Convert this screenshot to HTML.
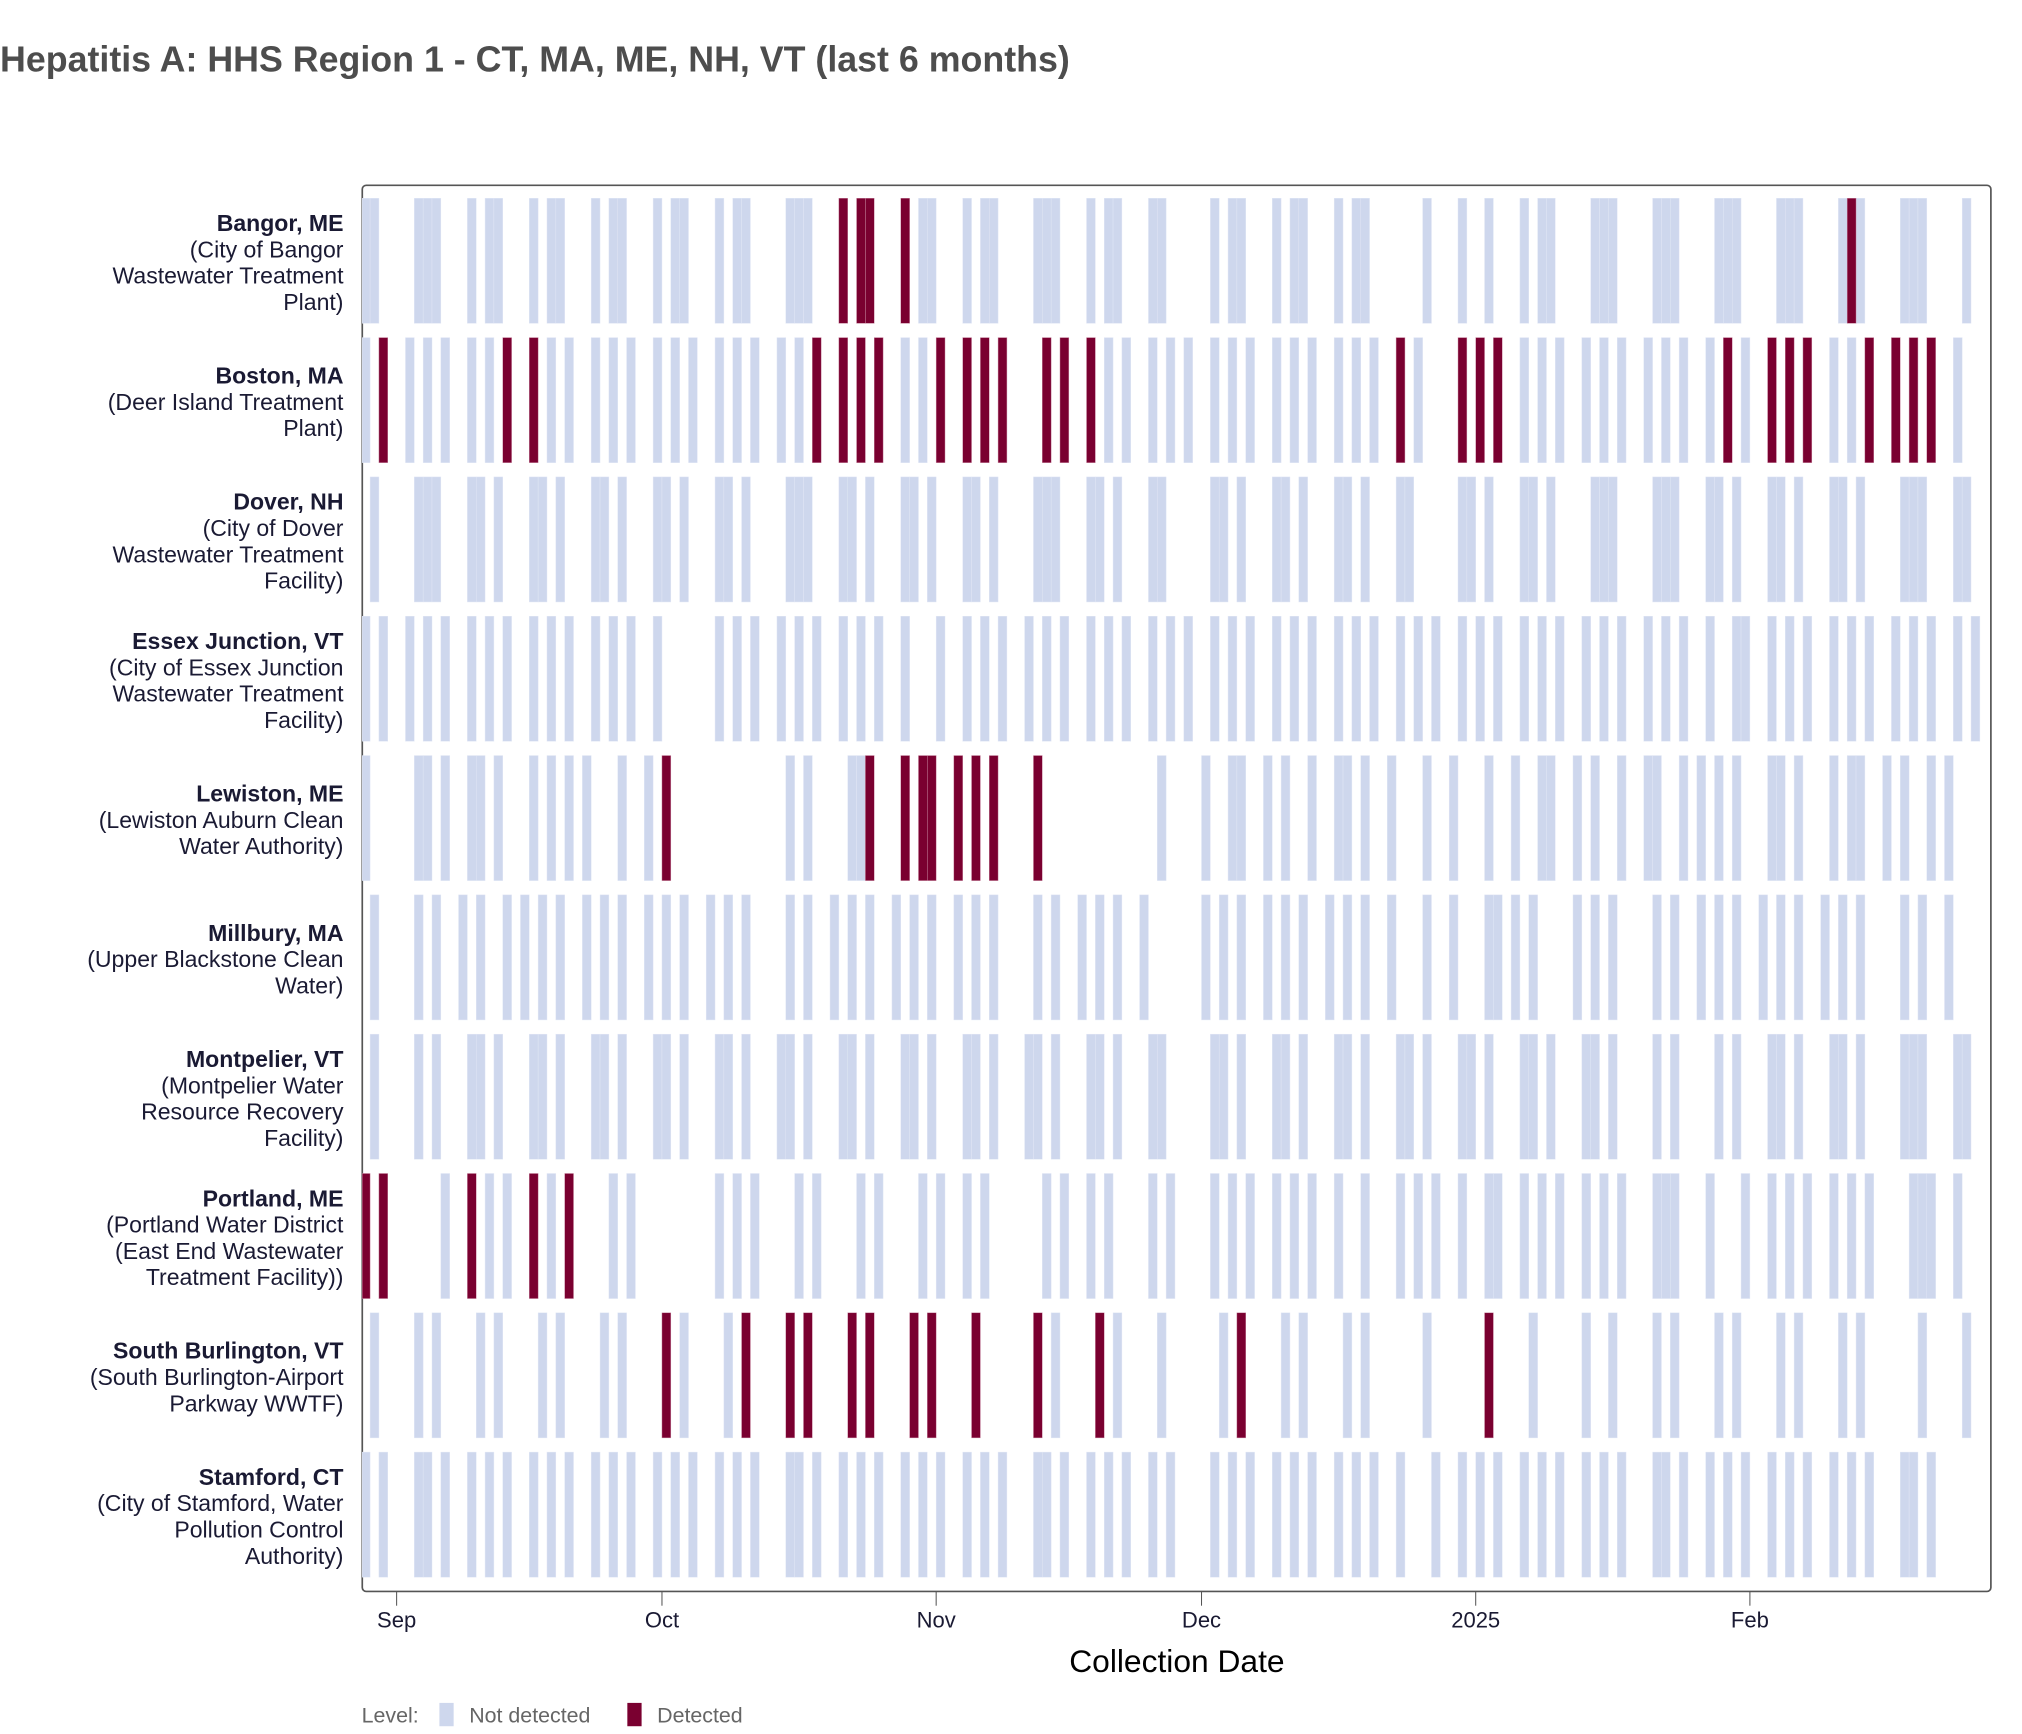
<!DOCTYPE html>
<html><head><meta charset="utf-8"><style>
html,body{margin:0;padding:0;background:#fff;}
svg{display:block;font-family:"Liberation Sans",Arial,sans-serif;}
</style></head><body>
<svg id="chart" width="2022" height="1734" viewBox="0 0 1560 1338" preserveAspectRatio="none" xmlns="http://www.w3.org/2000/svg">
<text x="0" y="55" font-size="27.6" font-weight="bold" fill="#4d4d4d">Hepatitis A: HHS Region 1 - CT, MA, ME, NH, VT (last 6 months)</text>
<rect x="279.5" y="143" width="1256.5" height="1085" rx="3" fill="#fff" stroke="#555" stroke-width="1.3"/>
<g id="bars"></g>
<g id="ylabels"></g>
<g id="xaxis"></g>
<text x="908" y="1290" font-size="24.5" text-anchor="middle" fill="#000">Collection Date</text>
<g>
<text x="279" y="1329" font-size="16.5" fill="#666">Level:</text>
<rect x="339" y="1314" width="11" height="18" fill="#ced7ed"/>
<text x="362" y="1329" font-size="16.5" fill="#666">Not detected</text>
<rect x="484" y="1314" width="11" height="18" fill="#7a0030"/>
<text x="507" y="1329" font-size="16.5" fill="#666">Detected</text>
</g>
</svg>
<script>
// Day offsets are days since 2024-08-28
const baseDate = "2024-08-28";
const sites = ["Bangor, ME","Boston, MA","Dover, NH","Essex Junction, VT","Lewiston, ME","Millbury, MA","Montpelier, VT","Portland, ME","South Burlington, VT","Stamford, CT"];
const siteDetails = [
 ["(City of Bangor","Wastewater Treatment","Plant)"],
 ["(Deer Island Treatment","Plant)"],
 ["(City of Dover","Wastewater Treatment","Facility)"],
 ["(City of Essex Junction","Wastewater Treatment","Facility)"],
 ["(Lewiston Auburn Clean","Water Authority)"],
 ["(Upper Blackstone Clean","Water)"],
 ["(Montpelier Water","Resource Recovery","Facility)"],
 ["(Portland Water District","(East End Wastewater","Treatment Facility))"],
 ["(South Burlington-Airport","Parkway WWTF)"],
 ["(City of Stamford, Water","Pollution Control","Authority)"]
];
const notDetected = [
 [0,1,6,7,8,12,14,15,19,21,22,26,28,29,33,35,36,40,42,43,48,49,50,63,64,68,70,71,76,77,78,82,84,85,89,90,96,98,99,103,105,106,110,112,113,120,124,127,131,133,134,139,140,141,146,147,148,153,154,155,160,161,162,167,169,174,175,176,181],
 [0,5,7,9,12,14,21,23,26,28,30,33,35,37,40,42,44,47,49,61,63,84,86,89,91,93,96,98,100,103,105,107,110,112,114,119,131,133,135,138,140,142,145,147,149,152,156,166,168,180],
 [1,6,7,8,12,13,15,19,20,22,26,27,29,33,34,36,40,41,43,48,49,50,54,55,57,61,62,64,68,69,71,76,77,78,82,83,85,89,90,96,97,99,103,104,106,110,111,113,117,118,124,125,127,131,132,134,139,140,141,146,147,148,152,153,155,159,160,162,166,167,169,174,175,176,180,181],
 [0,2,5,7,9,12,14,16,19,21,23,26,28,30,33,40,42,44,47,49,51,54,56,58,61,65,68,70,72,75,77,79,82,84,86,89,91,93,96,98,100,103,105,107,110,112,114,117,119,121,124,126,128,131,133,135,138,140,142,145,147,149,152,155,156,159,161,163,166,168,170,173,175,177,180,182],
 [0,6,7,9,12,13,15,19,21,23,25,29,32,48,50,55,56,90,95,98,99,102,104,107,110,111,113,116,120,123,127,130,133,134,137,139,142,145,146,149,151,153,155,159,160,162,166,168,169,172,174,177,179],
 [1,6,8,11,13,16,18,20,22,25,27,29,32,34,36,39,41,43,48,50,53,55,57,60,62,64,67,69,71,76,78,81,83,85,88,95,97,99,102,104,106,109,111,113,116,120,123,127,128,130,132,137,139,141,146,148,151,153,155,158,160,162,165,167,169,174,176,179],
 [1,6,8,12,13,15,19,20,22,26,27,29,33,34,36,40,41,43,47,48,50,54,55,57,61,62,64,68,69,71,75,76,78,82,83,85,89,90,96,97,99,103,104,106,110,111,113,117,118,120,124,125,127,131,132,134,138,139,141,146,148,153,155,159,160,162,166,167,169,174,175,176,180,181],
 [9,14,16,21,28,30,40,42,44,49,51,56,58,63,65,68,70,77,79,82,84,89,91,96,98,100,103,105,107,110,113,117,119,121,124,127,128,131,133,135,138,140,142,146,147,148,152,156,159,161,163,166,168,170,175,176,177,180],
 [1,6,8,13,15,20,22,27,29,36,41,78,85,90,97,104,106,111,113,120,132,138,141,146,148,153,155,160,162,167,169,176,181],
 [0,2,6,7,9,12,14,16,19,21,23,26,28,30,33,35,37,40,42,44,48,49,51,54,56,58,61,63,65,68,70,72,76,77,79,82,84,86,89,91,96,98,100,103,105,107,110,112,114,117,121,124,126,128,131,133,135,138,140,142,146,147,149,152,154,156,159,161,163,166,168,170,174,175,177]
];
const detected = [
 [54,56,57,61,168],
 [2,16,19,51,54,56,58,65,68,70,72,77,79,82,117,124,126,128,154,159,161,163,170,173,175,177],
 [],
 [],
 [34,57,61,63,64,67,69,71,76],
 [],
 [],
 [0,2,12,19,23],
 [34,43,48,50,55,57,62,64,69,76,83,99,127],
 []
];
const tickLabels = ["Sep","Oct","Nov","Dec","2025","Feb"];
const tickDays = [4,34,65,95,126,157];

const NS = "http://www.w3.org/2000/svg";
const x0 = 278.7, dayW = 6.824;
function xScale(d){ return x0 + d*dayW; }
const rowTop = 153, rowStep = 107.5, rowH = 96.5;
function yScale(i){ return rowTop + i*rowStep; }

const gBars = document.getElementById('bars');
function addBar(i, d, det){
  const r = document.createElementNS(NS,'rect');
  
  
  const x = Math.max(xScale(d), 279.5);
  r.setAttribute('x', x);
  r.setAttribute('y', yScale(i));
  r.setAttribute('width', xScale(d+1) - x);
  r.setAttribute('height', rowH);
  r.setAttribute('fill', det ? '#7a0030' : '#ced7ed');
  r.setAttribute('stroke', det ? '#c98aa3' : '#e2e7f5');
  r.setAttribute('stroke-width', '0.35');
  gBars.appendChild(r);
}
sites.forEach((s,i)=>{
  notDetected[i].forEach(d=>addBar(i,d,false));
  detected[i].forEach(d=>addBar(i,d,true));
});

const gY = document.getElementById('ylabels');
sites.forEach((s,i)=>{
  const lines = [s].concat(siteDetails[i]);
  const cy = yScale(i) + rowH/2;
  const lh = 20.3;
  const start = cy - (lines.length-1)*lh/2 + 7.5;
  const t = document.createElementNS(NS,'text');
  
  
  t.setAttribute('text-anchor','end');
  t.setAttribute('font-size','17.8');
  t.setAttribute('fill','#1a1a33');
  lines.forEach((ln,j)=>{
    const ts = document.createElementNS(NS,'tspan');
    ts.setAttribute('x','265');
    ts.setAttribute('y', start + j*lh);
    if(j===0) ts.setAttribute('font-weight','bold');
    ts.textContent = ln;
    t.appendChild(ts);
  });
  gY.appendChild(t);
});

const gX = document.getElementById('xaxis');
tickDays.forEach((d,i)=>{
  const x = xScale(d);
  const l = document.createElementNS(NS,'line');
  
  
  l.setAttribute('x1',x); l.setAttribute('x2',x);
  l.setAttribute('y1',1228); l.setAttribute('y2',1239);
  l.setAttribute('stroke','#555'); l.setAttribute('stroke-width','0.8');
  gX.appendChild(l);
  const t = document.createElementNS(NS,'text');
  
  
  t.setAttribute('x',x); t.setAttribute('y',1256);
  t.setAttribute('text-anchor','middle');
  t.setAttribute('font-size','17');
  t.setAttribute('fill','#1a1a33');
  t.textContent = tickLabels[i];
  gX.appendChild(t);
});
</script>
</body></html>
